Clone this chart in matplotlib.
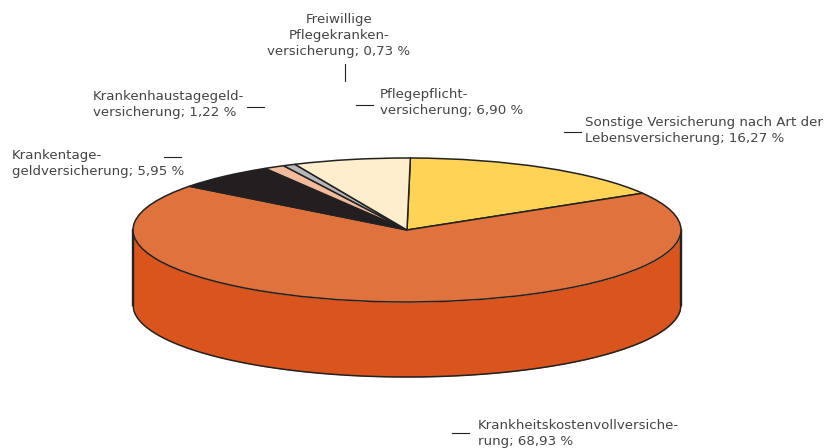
import matplotlib
matplotlib.use("Agg")
import matplotlib.pyplot as plt
import numpy as np

W, H = 834, 448
cx, cy, rx, ry, depth = 407, 230, 274, 72, 75

labels = ["Sonstige Versicherung nach Art der\nLebensversicherung; 16,27 %",
          "Krankheitskostenvollversiche-\nrung; 68,93 %",
          "Krankentage-\ngeldversicherung; 5,95 %",
          "Krankenhaustagegeld-\nversicherung; 1,22 %",
          "Freiwillige\nPflegekranken-\nversicherung; 0,73 %",
          "Pflegepflicht-\nversicherung; 6,90 %"]
values = [16.27, 68.93, 5.95, 1.22, 0.73, 6.90]
top_colors = ["#FFD355", "#E0723E", "#231F20", "#F2BB9C", "#B7B7BB", "#FFEECD"]
side_color = "#DA551E"
edge = "#222222"

fig = plt.figure(figsize=(W/100, H/100), dpi=100)
ax = fig.add_axes([0, 0, 1, 1])
depth_u = depth/ry

xs = np.linspace(-1, 1, 600)
yt = -np.sqrt(1-xs**2)
ax.fill_between(xs, yt, yt-depth_u, color=side_color, lw=0, zorder=1.5)
ax.plot(xs, yt-depth_u, color=edge, lw=1.1, zorder=1.6)
ax.plot([-1, -1], [0, -depth_u], color=edge, lw=1.7, zorder=1.6)
ax.plot([1, 1], [0, -depth_u], color=edge, lw=1.7, zorder=1.6)
# top
wedges, _ = ax.pie(values, colors=top_colors, startangle=89.3, counterclock=False,
                   center=(0, 0), radius=1,
                   wedgeprops=dict(edgecolor=edge, linewidth=1.1))
for w in wedges:
    w.set_zorder(3)

ax.set_aspect("auto")
ax.set_xlim(-cx/rx, (W-cx)/rx)
ax.set_ylim(-(H-cy)/ry, cy/ry)
ax.axis("off")

def P(px, py):
    return (px-cx)/rx, (cy-py)/ry

text_pos = [(585, 116, "left"), (478, 419, "left"), (12, 149, "left"),
            (93, 90, "left"), (339, 13, "center"), (380, 88, "left")]
for lab, (px, py, ha) in zip(labels, text_pos):
    x, y = P(px, py)
    ax.text(x, y, lab, ha=ha, va="top", fontsize=9.65,
            family="DejaVu Sans", color="#444444", linespacing=1.32,
            multialignment=ha)

leaders = [((564, 132), (581, 132)), ((452, 433), (469, 433)), ((164, 157), (181, 157)),
           ((247, 107), (264, 107)), ((345, 64), (345, 81)), ((356, 105), (373, 105))]
for (a, b) in leaders:
    x0, y0 = P(*a); x1, y1 = P(*b)
    ax.plot([x0, x1], [y0, y1], color="#222222", lw=0.8)

fig.savefig("out.png", dpi=100, facecolor="white")
